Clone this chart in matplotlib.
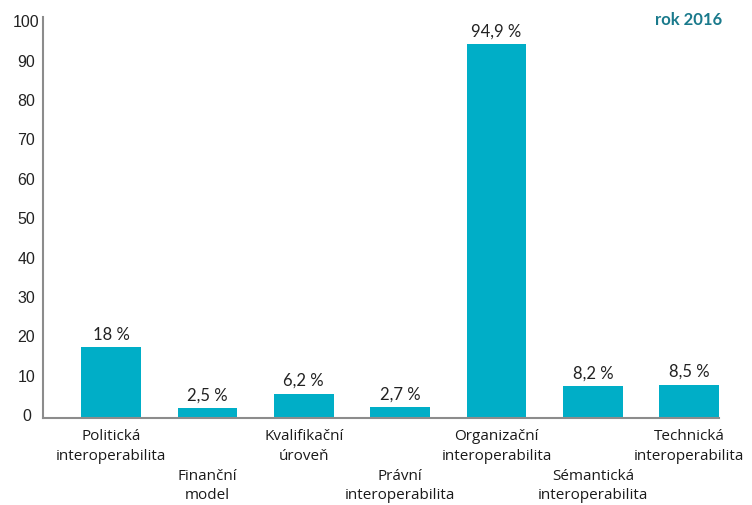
import matplotlib.pyplot as plt
import matplotlib.transforms as mtransforms
import numpy as np

# Дані
categories = ['Politická\ninteroperabilita', 'Finanční\nmodel', 'Kvalifikační\núroveň',
              'Právní\ninteroperabilita', 'Organizační\ninteroperabilita',
              'Sémantická\ninteroperabilita', 'Technická\ninteroperabilita']
values = [18, 2.5, 6.2, 2.7, 94.9, 8.2, 8.5]
value_labels = ['18 %', '2,5 %', '6,2 %', '2,7 %', '94,9 %', '8,2 %', '8,5 %']
yticks = [0, 10, 20, 30, 40, 50, 60, 70, 80, 90, 100]

plt.rcParams['font.family'] = ['Lato', 'DejaVu Sans']

fig = plt.figure(figsize=(7.52, 5.06), dpi=100)
ax = fig.add_axes([0.0572, 0.172, 0.899, 0.792])

x = np.arange(len(categories))
bars = ax.bar(x, values, width=0.62, color='#00AEC7')

# Підписи значень
for xi, v, lab in zip(x, values, value_labels):
    ax.annotate(lab, xy=(xi, v), xytext=(0, 4), textcoords='offset points',
                ha='center', va='bottom', fontsize=12, color='#222222')

# Підписи категорій (у два ряди)
for i, (xi, cat) in enumerate(zip(x, categories)):
    off = 7.5 if i % 2 == 0 else 36
    ax.annotate(cat, xy=(xi, 0), xycoords=('data', 'axes fraction'),
                xytext=(0, -off), textcoords='offset points',
                ha='center', va='top', fontsize=11, color='#1a1a1a',
                linespacing=1.4, family=['Open Sans', 'DejaVu Sans'])

ax.set_xlim(-0.706, 6.31)
ax.set_ylim(0, 101.8)
ax.set_yticks(yticks)
ax.set_yticklabels([str(t) for t in yticks], fontsize=11.5, color='#222222',
                   family=['Liberation Sans', 'DejaVu Sans'], ha='center')
ax.set_xticks([])
ax.tick_params(axis='y', length=0, pad=12)

# зсув підписів осі Y трохи вгору
shift = mtransforms.ScaledTranslation(0, 4 / 100, fig.dpi_scale_trans)
for lab in ax.get_yticklabels():
    lab.set_transform(lab.get_transform() + shift)

for s in ['top', 'right']:
    ax.spines[s].set_visible(False)
for s in ['left', 'bottom']:
    ax.spines[s].set_color('#8c8c8c')
    ax.spines[s].set_linewidth(1.5)

fig.text(0.915, 0.96, 'rok 2016', ha='center', va='center', fontsize=12,
         fontweight='bold', color='#1a7a8c')

fig.savefig('out.png', dpi=100)
